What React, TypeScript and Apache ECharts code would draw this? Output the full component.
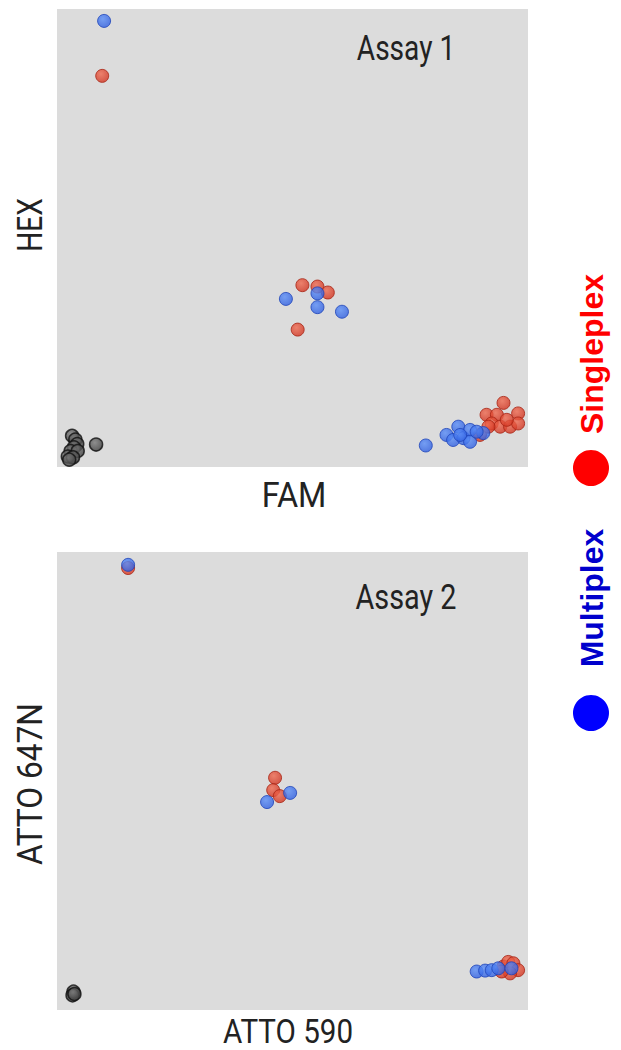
import React, { useEffect, useRef } from "react";
import * as echarts from "echarts";

// Assay 1 (FAM vs HEX)
const a1Singleplex: [number, number][] = [
  [9.6, 85.4], [52.1, 39.7], [55.3, 39.4], [57.5, 38.1], [51.1, 30.0],
  [89.8, 7.0], [91.2, 11.4], [93.4, 11.4], [94.8, 14.0], [92.3, 9.5], [94.1, 8.8],
  [96.2, 8.8], [97.9, 11.7], [97.9, 9.5], [95.5, 10.3], [91.6, 8.8],
];
const a1Multiplex: [number, number][] = [
  [10.0, 97.4], [55.3, 37.9], [48.6, 36.7], [55.3, 34.9], [60.5, 33.9],
  [78.3, 4.7], [82.7, 7.0], [85.2, 8.8], [84.1, 5.9], [86.3, 6.3], [87.7, 8.1],
  [87.7, 5.5], [85.6, 7.0], [90.5, 7.4], [89.1, 7.7],
];
const a1Negative: [number, number][] = [
  [3.2, 6.8], [3.9, 6.0], [4.3, 5.0], [3.6, 4.3], [2.9, 3.5], [4.4, 3.5],
  [2.3, 2.3], [3.4, 2.1], [2.6, 1.6], [8.3, 4.9],
];

// Assay 2 (ATTO 590 vs ATTO 647N)
const a2Singleplex: [number, number][] = [
  [15.1, 96.5], [46.3, 50.7], [45.9, 48.0], [47.3, 46.7],
  [94.8, 9.5], [95.8, 10.5], [96.9, 10.2], [97.9, 8.7], [96.2, 8.0], [94.4, 8.4],
];
const a2Multiplex: [number, number][] = [
  [15.1, 97.2], [44.6, 45.4], [49.5, 47.4],
  [89.1, 8.4], [90.9, 8.6], [92.3, 8.7], [93.7, 9.1], [96.5, 9.1],
];
const a2Negative: [number, number][] = [
  [3.5, 4.0], [3.3, 3.2], [3.7, 3.5],
];

const panelTitles = ["Assay 1", "Assay 2"];
const xNames = ["FAM", "ATTO 590"];
const yNames = ["HEX", "ATTO 647N"];
const legendNames = ["Singleplex", "Multiplex"];

function grad(c1: string, c2: string) {
  return new echarts.graphic.RadialGradient(0.4, 0.35, 0.7, [
    { offset: 0, color: c1 },
    { offset: 1, color: c2 },
  ]);
}

function label(text: string, x: number, y: number, scaleX: number, rotated: boolean, size = 36) {
  return {
    type: "text",
    x,
    y,
    rotation: rotated ? Math.PI / 2 : 0,
    scaleX,
    scaleY: 1,
    style: {
      text,
      fill: "#222",
      font: `${size}px Roboto, 'DejaVu Sans', sans-serif`,
      lineHeight: size,
      align: "center",
      verticalAlign: "middle",
    },
  };
}

export default function App() {
  const ref = useRef<HTMLDivElement>(null);
  useEffect(() => {
    document.body.style.margin = "0";
    const chart = echarts.init(ref.current!, null, { renderer: "svg" });
    const redStyle = { color: grad("#f06a50", "#d0321f"), borderColor: "#a82414", borderWidth: 1 };
    const blueStyle = { color: grad("#5a8ef8", "#2f5ee0"), borderColor: "#1e44b8", borderWidth: 1 };
    const grayStyle = { color: grad("#7a7a7a", "#3a3a3a"), borderColor: "#111", borderWidth: 1.5 };
    const grids = [
      { left: 57, top: 9, width: 471, height: 458 },
      { left: 57, top: 552, width: 471, height: 458 },
    ];
    const mk = (name: string, data: [number, number][], idx: number, style: any) => ({
      name,
      type: "scatter",
      xAxisIndex: idx,
      yAxisIndex: idx,
      data,
      symbolSize: 13,
      itemStyle: style,
      silent: true,
    });
    const axisBase = (i: number) => ({
      gridIndex: i,
      type: "value",
      min: 0,
      max: 100,
      axisLine: { show: false },
      axisTick: { show: false },
      axisLabel: { show: false },
      splitLine: { show: false },
    });
    chart.setOption({
      animation: false,
      backgroundColor: "#ffffff",
      grid: grids.map((g) => ({ ...g, show: true, backgroundColor: "#dcdcdc", borderWidth: 0 })),
      xAxis: [0, 1].map((i) => axisBase(i)),
      yAxis: [0, 1].map((i) => axisBase(i)),
      series: [
        mk("Negative", a1Negative, 0, grayStyle),
        mk(legendNames[0], a1Singleplex, 0, redStyle),
        mk(legendNames[1], a1Multiplex, 0, blueStyle),
        mk("Negative", a2Negative, 1, grayStyle),
        mk(legendNames[0], a2Singleplex, 1, redStyle),
        mk(legendNames[1], a2Multiplex, 1, blueStyle),
      ],
      graphic: [
        label(panelTitles[0], 406, 48, 0.78, false),
        label(panelTitles[1], 406, 597, 0.8, false),
        label(xNames[0], 294, 494, 0.9, false),
        label(xNames[1], 288, 1031, 0.87, false, 34),
        label(yNames[0], 30, 225, 0.78, true),
        label(yNames[1], 30, 784, 0.88, true),
        { type: "circle", shape: { cx: 591, cy: 468, r: 18 }, style: { fill: "#ff0000" } },
        { type: "circle", shape: { cx: 591, cy: 713, r: 18 }, style: { fill: "#0000ff" } },
        {
          type: "text",
          x: 592,
          y: 354,
          rotation: Math.PI / 2,
          style: { text: legendNames[0], fill: "#ff0000", font: "bold 32px 'Liberation Sans', Arial, sans-serif", align: "center", verticalAlign: "middle" },
        },
        {
          type: "text",
          x: 592,
          y: 598,
          rotation: Math.PI / 2,
          style: { text: legendNames[1], fill: "#0000cc", font: "bold 32px 'Liberation Sans', Arial, sans-serif", align: "center", verticalAlign: "middle" },
        },
      ],
    });
    return () => chart.dispose();
  }, []);
  return <div ref={ref} style={{ width: 621, height: 1050 }} />;
}
